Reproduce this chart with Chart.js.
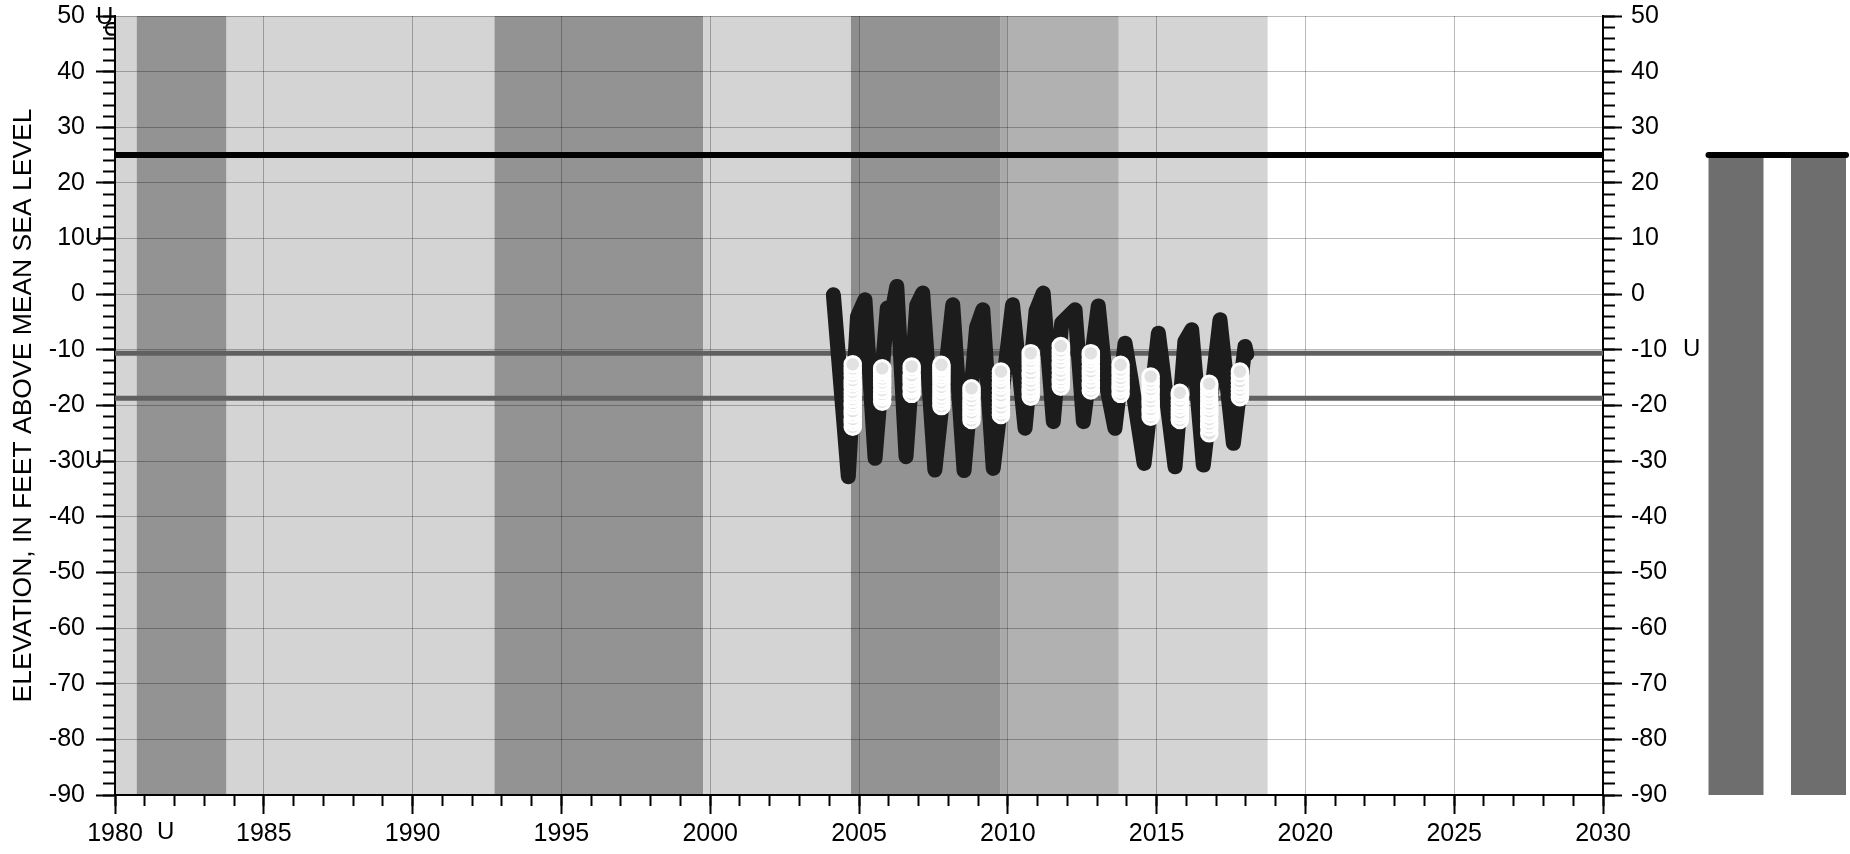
<!DOCTYPE html>
<html>
<head>
<meta charset="utf-8">
<title>Groundwater level</title>
<script src="https://cdn.jsdelivr.net/npm/chart.js@4.4.1/dist/chart.umd.min.js"></script>
<style>
  html, body { margin: 0; padding: 0; background: #ffffff; width: 1850px; height: 854px; overflow: hidden; }
  #main { position: absolute; left: 0; top: 0; }
  #wellBox { position: absolute; left: 1690px; top: 0; width: 160px; height: 854px; overflow: hidden; }
</style>
</head>
<body>
<canvas id="main" width="1850" height="854"></canvas>
<div id="wellBox"><canvas id="well" width="170" height="854"></canvas></div>
<script>
// ---- axes ----
const yearMin = 1980, yearMax = 2030;
const levelMin = -90, levelMax = 50;
const yearMajorStep = 5, yearMinorStep = 1;
const levelMajorStep = 10, levelMinorStep = 2;
const axisTitle = 'ELEVATION, IN FEET ABOVE MEAN SEA LEVEL';

// ---- shaded periods (start year, end year, fill) ----
const bandStart = [1980.00, 1980.73, 1983.75, 1992.75, 1999.76, 2004.73, 2005.00, 2009.74, 2010.00, 2013.73];
const bandEnd   = [1980.73, 1983.75, 1992.75, 1999.76, 2004.73, 2005.00, 2009.74, 2010.00, 2013.73, 2018.73];
const bandColor = ['#d4d4d4', '#939393', '#d4d4d4', '#939393', '#d4d4d4', '#8d8d8d', '#939393', '#a9a9a9', '#b1b1b1', '#d4d4d4'];

// ---- reference elevations ----
const landSurface = 25;
const referenceLevels = [-10.6, -18.7];

// ---- continuous water-level record (turning points) ----
const traceYears = [
  2004.14, 2004.64, 2004.95, 2005.20, 2005.54, 2005.95, 2006.08, 2006.27, 2006.58,
  2006.94, 2007.14, 2007.55, 2008.15, 2008.53, 2008.95, 2009.16, 2009.51,
  2010.16, 2010.58, 2010.95, 2011.19, 2011.53, 2011.81, 2012.26, 2012.54,
  2013.04, 2013.30, 2013.60, 2013.94, 2014.15, 2014.58, 2015.06, 2015.62,
  2015.95, 2016.18, 2016.57, 2017.13, 2017.58, 2017.97, 2018.03
];
const traceLevels = [
  -0.1, -32.8, -4.0, -1.0, -29.5, -2.5, -4.0, 1.4, -29.2,
  -2.0, 0.2, -31.6, -1.9, -31.7, -6.0, -2.8, -31.3,
  -1.9, -24.1, -3.0, 0.2, -22.9, -5.2, -2.8, -22.9,
  -2.1, -15.9, -24.1, -8.8, -15.5, -30.4, -7.0, -31.0,
  -8.5, -6.4, -30.7, -4.6, -26.8, -9.4, -10.8
];

// ---- periodic measurements, one group per visit (lowest first) ----
const visitYears = [2004.79, 2005.78, 2006.77, 2007.77, 2008.78, 2009.77, 2010.77,
                    2011.78, 2012.79, 2013.79, 2014.80, 2015.78, 2016.77, 2017.80];
const visitLevels = [
  [-23.8, -23.0, -22.4, -21.6, -21.0, -20.1, -19.5, -18.8, -18.1, -17.5, -16.7, -16.0, -15.4, -14.6, -13.9, -13.3, -12.6],
  [-19.3, -18.5, -17.9, -17.2, -16.4, -15.8, -15.1, -14.4, -13.8, -13.3],
  [-17.9, -17.1, -16.6, -15.8, -15.1, -14.5, -13.6, -13.0],
  [-20.1, -19.3, -18.7, -18.0, -17.2, -16.6, -15.8, -15.0, -14.4, -13.8, -13.2, -12.7],
  [-22.6, -21.8, -21.2, -20.4, -19.8, -19.1, -18.3, -17.5, -16.9],
  [-21.7, -20.9, -20.3, -19.5, -18.7, -18.1, -17.3, -16.5, -15.9, -15.1, -14.5, -13.9],
  [-18.4, -17.6, -17.0, -16.3, -15.5, -14.7, -14.1, -13.3, -12.5, -11.9, -11.2, -10.6],
  [-16.6, -15.8, -15.2, -14.5, -13.7, -12.9, -12.3, -11.5, -10.8, -10.1, -9.3],
  [-17.3, -16.5, -15.9, -15.1, -14.4, -13.8, -13.0, -12.2, -11.6, -11.0, -10.6],
  [-17.9, -17.1, -16.5, -15.7, -15.0, -14.2, -13.5, -12.7],
  [-22.0, -21.2, -20.6, -19.8, -19.2, -18.4, -17.6, -17.0, -16.2, -15.5, -14.8],
  [-22.6, -21.8, -21.2, -20.4, -19.7, -19.1, -18.3, -17.7],
  [-25.0, -23.9, -23.2, -22.4, -21.6, -21.0, -20.2, -19.6, -18.8, -18.1, -17.5, -16.7, -16.1],
  [-18.5, -17.7, -17.1, -16.3, -15.6, -14.7, -13.9]
];

// ---- stray "U" marks beside the axes ----
const markText = 'U';
const leftMarkLevels = [10, -30];
const rightMarkLevels = [-10];
const bottomMarkYears = [1981.7];
const topMarkLevel = 50;

// ---- well column inset ----
const wellColumns = ['', ''];
const wellTopLevels = [25, 25];
const wellBottomLevels = [-90, -90];

const fontFamily = '"Liberation Sans", Arial, Helvetica, sans-serif';
const tickFont = { family: fontFamily, size: 25 };

const bandsPlugin = {
  id: 'periodBands',
  beforeDraw(chart) {
    const { ctx, chartArea: a, scales } = chart;
    const x = scales.x, y = scales.y;
    ctx.save();
    // rotated mark tucked under the upper-left corner of the plot
    ctx.font = '24px ' + fontFamily;
    ctx.fillStyle = '#000';
    ctx.translate(y.right - 3, y.getPixelForValue(topMarkLevel) + 13);
    ctx.rotate(Math.PI / 2);
    ctx.textAlign = 'center';
    ctx.textBaseline = 'middle';
    ctx.fillText(markText, 0, 0);
    ctx.restore();

    ctx.save();
    for (let i = 0; i < bandStart.length; i++) {
      const x0 = x.getPixelForValue(bandStart[i]);
      const x1 = x.getPixelForValue(bandEnd[i]);
      ctx.fillStyle = bandColor[i];
      ctx.fillRect(x0, a.top, x1 - x0, a.bottom - a.top);
    }
    ctx.restore();
  }
};

const marksPlugin = {
  id: 'axisMarks',
  afterDraw(chart) {
    const { ctx, scales } = chart;
    const x = scales.x, y = scales.y, yr = scales.yRight;
    ctx.save();
    ctx.font = '24px ' + fontFamily;
    ctx.fillStyle = '#000';
    ctx.textBaseline = 'middle';
    ctx.textAlign = 'left';
    leftMarkLevels.forEach(v => ctx.fillText(markText, y.right - 30, y.getPixelForValue(v)));
    ctx.fillText(markText, y.right - 19, y.getPixelForValue(topMarkLevel) + 1);
    rightMarkLevels.forEach(v => ctx.fillText(markText, yr.left + 80, yr.getPixelForValue(v)));
    ctx.textAlign = 'center';
    bottomMarkYears.forEach(t => ctx.fillText(markText, x.getPixelForValue(t), x.top + 37));
    ctx.restore();
  }
};

const traceData = traceYears.map((t, i) => ({ x: t, y: traceLevels[i] }));
const visitData = [];
visitYears.forEach((t, i) => visitLevels[i].forEach(v => visitData.push({ x: t, y: v })));
const levelLine = v => [{ x: yearMin, y: v }, { x: yearMax, y: v }];

const majorGrid = { color: 'rgba(0,0,0,0.27)', lineWidth: 1, tickColor: '#000', tickWidth: 2, tickLength: 19 };
const minorGrid = { drawOnChartArea: false, tickColor: '#000', tickWidth: 2, tickLength: 12 };
const blackBorder = { color: '#000', width: 2 };
const label = v => String(v);
// keep the plot frame where the layout padding puts it
const noPadV = s => { s.paddingTop = 0; s.paddingBottom = 0; };
const noPadH = s => { s.paddingLeft = 0; s.paddingRight = 0; };

new Chart(document.getElementById('main'), {
  type: 'scatter',
  data: {
    datasets: [
      {
        label: 'periodic',
        data: visitData,
        order: 0,
        pointRadius: 7.8,
        pointBorderWidth: 3,
        pointBackgroundColor: '#e2e2e2',
        pointBorderColor: '#ffffff',
        pointHoverRadius: 7.8
      },
      {
        label: 'continuous',
        data: traceData,
        order: 1,
        showLine: true,
        pointRadius: 0,
        borderColor: '#1c1c1c',
        borderWidth: 15,
        borderJoinStyle: 'round',
        borderCapStyle: 'round',
        tension: 0
      },
      {
        label: 'land surface',
        data: levelLine(landSurface),
        order: 2,
        showLine: true,
        pointRadius: 0,
        borderColor: '#000000',
        borderWidth: 6,
        borderCapStyle: 'round'
      },
      ...referenceLevels.map(v => ({
        label: 'reference ' + v,
        data: levelLine(v),
        order: 3,
        showLine: true,
        pointRadius: 0,
        borderColor: '#606060',
        borderWidth: 5,
        borderCapStyle: 'round'
      }))
    ]
  },
  options: {
    responsive: false,
    animation: false,
    devicePixelRatio: 1,
    events: [],
    layout: { padding: { top: 16, left: 0, right: 0, bottom: 0 } },
    plugins: { legend: { display: false }, tooltip: { enabled: false } },
    scales: {
      x: {
        type: 'linear', position: 'bottom', weight: 1,
        min: yearMin, max: yearMax,
        ticks: { stepSize: yearMajorStep, maxTicksLimit: 1000, autoSkip: false, maxRotation: 0,
                 callback: label, font: tickFont, color: '#000', padding: 5 },
        grid: majorGrid,
        border: blackBorder,
        afterFit: s => { s.height = 59; noPadH(s); }
      },
      xMinor: {
        type: 'linear', position: 'bottom', weight: 0,
        min: yearMin, max: yearMax,
        ticks: { stepSize: yearMinorStep, maxTicksLimit: 1000, display: false, autoSkip: false },
        grid: { drawOnChartArea: false, tickColor: '#000', tickWidth: 2, tickLength: 11 },
        border: { display: false },
        afterFit: s => { s.height = 0; noPadH(s); }
      },
      y: {
        type: 'linear', position: 'left', weight: 1,
        min: levelMin, max: levelMax,
        ticks: { stepSize: levelMajorStep, maxTicksLimit: 1000, autoSkip: false,
                 callback: label, font: tickFont, color: '#000', padding: 11 },
        grid: majorGrid,
        border: blackBorder,
        title: { display: true, text: axisTitle, color: '#000',
                 font: { family: fontFamily, size: 26.5 }, padding: { top: 8, bottom: 0 } },
        afterFit: s => { s.width = 115; noPadV(s); }
      },
      yMinor: {
        type: 'linear', position: 'left', weight: 0,
        min: levelMin, max: levelMax,
        ticks: { stepSize: levelMinorStep, maxTicksLimit: 1000, display: false, autoSkip: false },
        grid: minorGrid,
        border: { display: false },
        afterFit: s => { s.width = 0; noPadV(s); }
      },
      yRight: {
        type: 'linear', position: 'right', weight: 1,
        min: levelMin, max: levelMax,
        ticks: { stepSize: levelMajorStep, maxTicksLimit: 1000, autoSkip: false,
                 callback: label, font: tickFont, color: '#000', padding: 9 },
        grid: { drawOnChartArea: false, tickColor: '#000', tickWidth: 2, tickLength: 19 },
        border: blackBorder,
        afterFit: s => { s.width = 247; noPadV(s); }
      },
      yRightMinor: {
        type: 'linear', position: 'right', weight: 0,
        min: levelMin, max: levelMax,
        ticks: { stepSize: levelMinorStep, maxTicksLimit: 1000, display: false, autoSkip: false },
        grid: minorGrid,
        border: { display: false },
        afterFit: s => { s.width = 0; noPadV(s); }
      }
    }
  },
  plugins: [bandsPlugin, marksPlugin]
});

// ---- well column inset: casing on both sides of the bore, capped at land surface ----
const capPlugin = {
  id: 'landCap',
  afterDatasetsDraw(chart) {
    const { ctx } = chart;
    const bars = chart.getDatasetMeta(0).data;
    const first = bars[0], last = bars[bars.length - 1];
    const top = Math.min(first.y, first.base);
    ctx.save();
    ctx.strokeStyle = '#000';
    ctx.lineWidth = 6;
    ctx.lineCap = 'round';
    ctx.beginPath();
    ctx.moveTo(first.x - first.width / 2, top);
    ctx.lineTo(last.x + last.width / 2, top);
    ctx.stroke();
    ctx.restore();
  }
};

new Chart(document.getElementById('well'), {
  type: 'bar',
  data: {
    labels: wellColumns,
    datasets: [{
      data: wellColumns.map((c, i) => [wellBottomLevels[i], wellTopLevels[i]]),
      backgroundColor: '#6e6e6e',
      borderWidth: 0,
      categoryPercentage: 1,
      barPercentage: 0.6667
    }]
  },
  options: {
    responsive: false,
    animation: false,
    devicePixelRatio: 1,
    events: [],
    layout: { padding: { left: 4.75, right: 0.25, top: 16, bottom: 59 } },
    plugins: { legend: { display: false }, tooltip: { enabled: false } },
    scales: {
      x: { display: false },
      y: { display: false, min: levelMin, max: levelMax }
    }
  },
  plugins: [capPlugin]
});
</script>
</body>
</html>
